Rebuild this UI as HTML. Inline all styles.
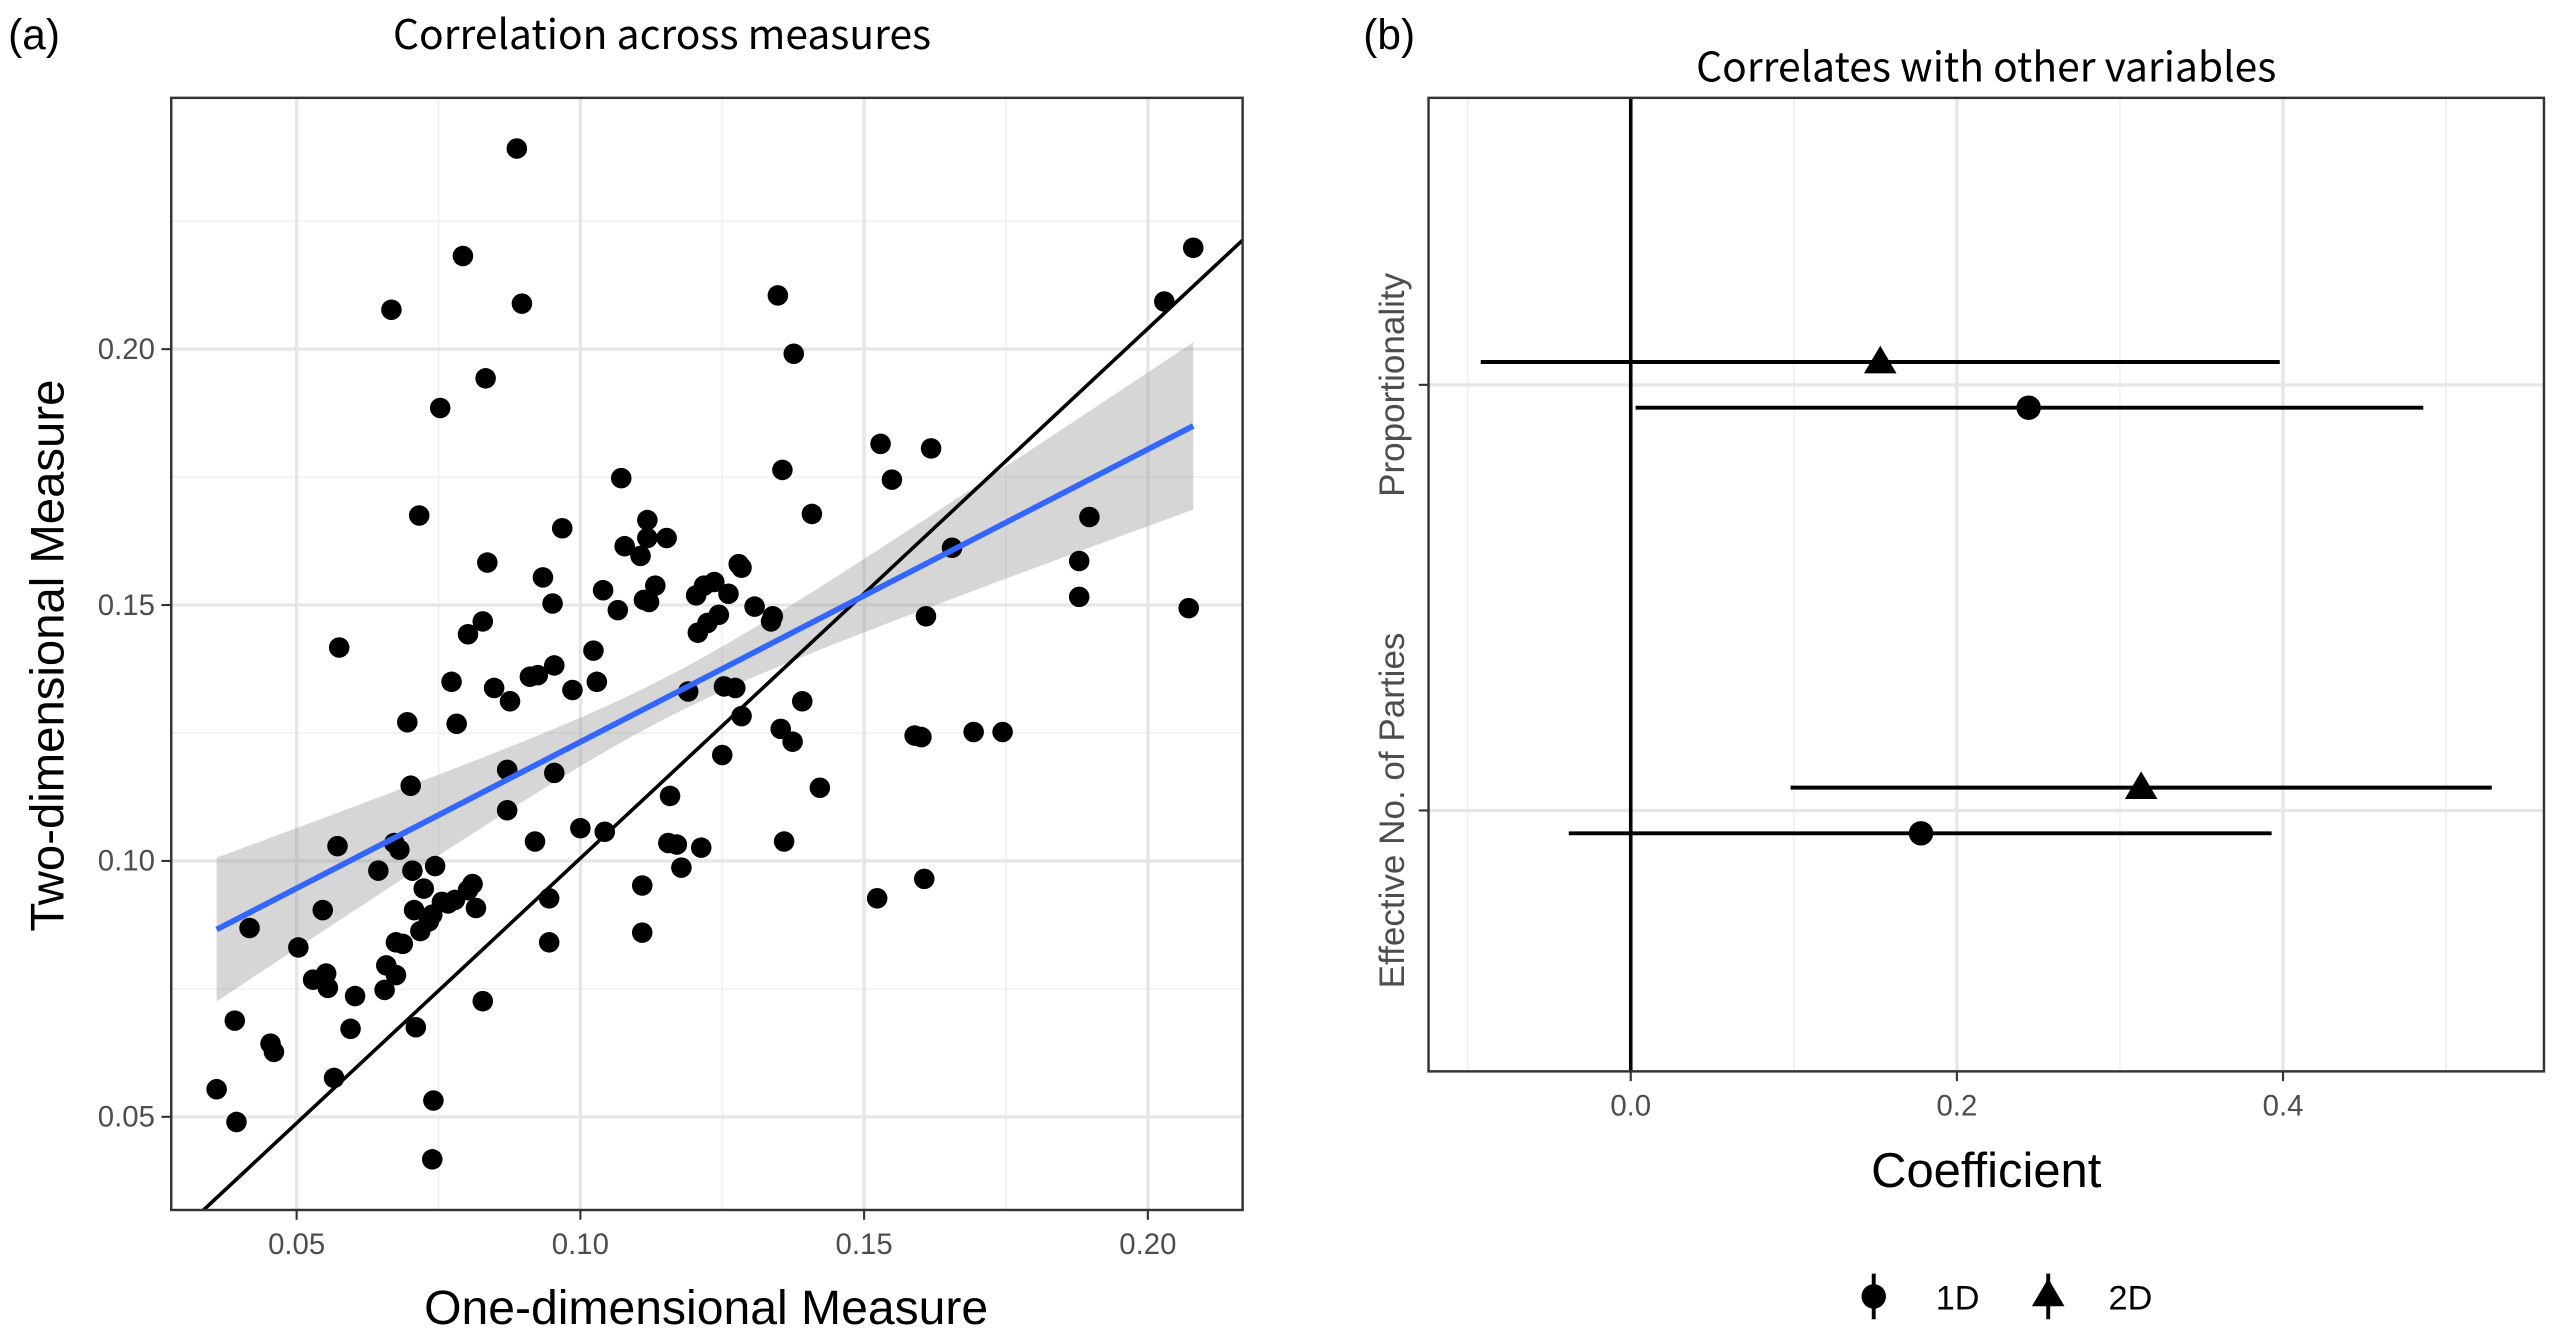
<!DOCTYPE html>
<html><head><meta charset="utf-8"><style>
html,body{margin:0;padding:0;background:#fff;}
svg{display:block;}
text{font-family:"Liberation Sans",sans-serif;}
.nt{font-family:"Noto Sans CJK JP","Liberation Sans",sans-serif;}
</style></head><body>
<svg id="chart" xmlns="http://www.w3.org/2000/svg" width="2557" height="1338" viewBox="0 0 1568 820.5" preserveAspectRatio="none">
<g id="pa"></g>
<g id="pb"></g>
</svg>
<script>
// ---- Panel (a) data ----
const xVals = [0.0359,0.0394,0.0391,0.0417,0.0454,0.0460,0.0503,0.0529,0.0546,0.0552,0.0555,0.0566,0.0572,0.0575,0.0595,0.0603,0.0644,0.0655,0.0658,0.0667,0.0672,0.0675,0.0675,0.0681,0.0687,0.0695,0.0701,0.0704,0.0707,0.0710,0.0716,0.0718,0.0724,0.0733,0.0739,0.0741,0.0739,0.0744,0.0753,0.0756,0.0767,0.0773,0.0779,0.0782,0.0793,0.0802,0.0802,0.0810,0.0816,0.0828,0.0828,0.0833,0.0836,0.0848,0.0871,0.0871,0.0876,0.0888,0.0897,0.0911,0.0920,0.0925,0.0934,0.0945,0.0945,0.0954,0.0951,0.0954,0.0968,0.0986,0.1000,0.1023,0.1029,0.1040,0.1043,0.1066,0.1072,0.1078,0.1106,0.1109,0.1109,0.1112,0.1118,0.1118,0.1121,0.1132,0.1152,0.1155,0.1158,0.1170,0.1178,0.1190,0.1204,0.1207,0.1213,0.1218,0.1224,0.1236,0.1244,0.1250,0.1253,0.1261,0.1273,0.1279,0.1284,0.1284,0.1307,0.1339,0.1336,0.1348,0.1353,0.1359,0.1356,0.1374,0.1376,0.1391,0.1408,0.1422,0.1523,0.1529,0.1549,0.1589,0.1601,0.1606,0.1609,0.1618,0.1655,0.1693,0.1744,0.1879,0.1879,0.1897,0.2029,0.2072,0.2080];
const yVals = [0.0554,0.0490,0.0688,0.0869,0.0643,0.0627,0.0831,0.0768,0.0904,0.0780,0.0752,0.0576,0.1029,0.1417,0.0672,0.0736,0.0981,0.0748,0.0796,0.2077,0.1035,0.0777,0.0841,0.1022,0.0838,0.1271,0.1147,0.0981,0.0904,0.0675,0.1675,0.0863,0.0946,0.0882,0.0417,0.0532,0.0895,0.0990,0.1885,0.0920,0.0917,0.1350,0.0924,0.1268,0.2182,0.0943,0.1443,0.0955,0.0908,0.1468,0.0726,0.1943,0.1583,0.1338,0.1178,0.1099,0.1312,0.2392,0.2089,0.1360,0.1038,0.1363,0.1554,0.0927,0.0841,0.1172,0.1503,0.1382,0.1650,0.1334,0.1064,0.1411,0.1350,0.1529,0.1057,0.1490,0.1748,0.1615,0.1596,0.0952,0.0860,0.1510,0.1631,0.1666,0.1506,0.1538,0.1631,0.1035,0.1127,0.1032,0.0987,0.1331,0.1519,0.1446,0.1026,0.1538,0.1465,0.1545,0.1481,0.1207,0.1341,0.1522,0.1338,0.1580,0.1283,0.1573,0.1497,0.1478,0.1468,0.2105,0.1258,0.1038,0.1764,0.1233,0.1991,0.1312,0.1678,0.1143,0.0927,0.1815,0.1745,0.1245,0.1242,0.0965,0.1478,0.1806,0.1612,0.1252,0.1252,0.1516,0.1586,0.1672,0.2093,0.1494,0.2198];
const fitX = [0.0359,0.2080];
const fitY = [0.0866,0.1850];
const refLineX = [0.0336,0.2167];
const refLineY = [0.0318,0.2213];
const bandXm = 0.115, bandA = 1.6e-5, bandB = 0.0290;
const aXTicks = [0.05,0.10,0.15,0.20];
const aXTickLabels = ["0.05","0.10","0.15","0.20"];
const aYTicks = [0.05,0.10,0.15,0.20];
const aYTickLabels = ["0.05","0.10","0.15","0.20"];
const aXMinor = [0.075,0.125,0.175];
const aYMinor = [0.075,0.125,0.175,0.225];
// ---- Panel (b) data ----
const bCategories = ["Proportionality","Effective No. of Parties"];
const est1D = [0.244,0.178];
const lo1D = [0.003,-0.038];
const hi1D = [0.486,0.393];
const est2D = [0.153,0.313];
const lo2D = [-0.092,0.098];
const hi2D = [0.398,0.528];
const bXTicks = [0.0,0.2,0.4];
const bXTickLabels = ["0.0","0.2","0.4"];
const bXMinor = [-0.1,0.1,0.3,0.5];

const NS="http://www.w3.org/2000/svg";
function mk(parent,tag,attrs,txt){const e=document.createElementNS(NS,tag);for(const k in attrs)e.setAttribute(k,attrs[k]);if(txt!==undefined)e.textContent=txt;parent.appendChild(e);return e;}

// Panel a
const pa=document.getElementById('pa');
const A={l:105,r:762,t:60,b:742,x0:0.0279,x1:0.2167,y0:0.0318,y1:0.2491};
const ax=v=>A.l+(v-A.x0)/(A.x1-A.x0)*(A.r-A.l);
const ay=v=>A.b-(v-A.y0)/(A.y1-A.y0)*(A.b-A.t);
let t;
t=mk(pa,'text',{x:5,y:30,'font-size':26,fill:'#000'},'(a)');

t=mk(pa,'text',{x:406,y:30,'font-size':25,'text-anchor':'middle',fill:'#000',class:'nt'},'Correlation across measures');

mk(pa,'defs',{}).innerHTML='<clipPath id="clipA"><rect x="105" y="60" width="657" height="682"/></clipPath>';
aXMinor.forEach(v=>{const l=mk(pa,'line',{x1:ax(v),x2:ax(v),y1:A.t,y2:A.b,stroke:'#f0f0f0','stroke-width':1});});
aYMinor.forEach(v=>{const l=mk(pa,'line',{x1:A.l,x2:A.r,y1:ay(v),y2:ay(v),stroke:'#f0f0f0','stroke-width':1});});
aXTicks.forEach((v,i)=>{const l=mk(pa,'line',{x1:ax(v),x2:ax(v),y1:A.t,y2:A.b,stroke:'#e6e6e6','stroke-width':2});
 const k=mk(pa,'line',{x1:ax(v),x2:ax(v),y1:A.b,y2:A.b+6,stroke:'#333','stroke-width':1.3});
 const s=mk(pa,'text',{x:ax(v),y:A.b+27,'font-size':18,'text-anchor':'middle',fill:'#4d4d4d'},aXTickLabels[i]);});
aYTicks.forEach((v,i)=>{const l=mk(pa,'line',{x1:A.l,x2:A.r,y1:ay(v),y2:ay(v),stroke:'#e6e6e6','stroke-width':2});
 const k=mk(pa,'line',{x1:A.l-6,x2:A.l,y1:ay(v),y2:ay(v),stroke:'#333','stroke-width':1.3});
 const s=mk(pa,'text',{x:A.l-10,y:ay(v)+6,'font-size':18,'text-anchor':'end',fill:'#4d4d4d'},aYTickLabels[i]);});
// band
{const n=40;let up=[],dn=[];const sl=(fitY[1]-fitY[0])/(fitX[1]-fitX[0]);
 for(let i=0;i<=n;i++){const x=fitX[0]+(fitX[1]-fitX[0])*i/n;const y=fitY[0]+sl*(x-fitX[0]);const se=Math.sqrt(bandA+bandB*(x-bandXm)*(x-bandXm));up.push(ax(x)+','+ay(y+se));dn.unshift(ax(x)+','+ay(y-se));}
 const p=mk(pa,'polygon',{points:up.concat(dn).join(' '),fill:'#999','fill-opacity':0.4});}
// reference line
{const l=mk(pa,'line',{x1:ax(refLineX[0]),y1:ay(refLineY[0]),x2:ax(refLineX[1]),y2:ay(refLineY[1]),stroke:'#000','stroke-width':2.2,'clip-path':'url(#clipA)'});}
// points
xVals.forEach((x,i)=>{const c=mk(pa,'circle',{cx:ax(x),cy:ay(yVals[i]),r:6.3,fill:'#000'});});
// fit line
{const l=mk(pa,'line',{x1:ax(fitX[0]),y1:ay(fitY[0]),x2:ax(fitX[1]),y2:ay(fitY[1]),stroke:'#3366ff','stroke-width':3.5});}
{const r=mk(pa,'rect',{x:A.l,y:A.t,width:A.r-A.l,height:A.b-A.t,fill:'none',stroke:'#333','stroke-width':1.5});}
t=mk(pa,'text',{x:433,y:812,'font-size':29.5,'text-anchor':'middle',fill:'#000'},'One-dimensional Measure');

t=mk(pa,'text',{x:0,y:0,'font-size':29,'text-anchor':'middle',fill:'#000',transform:'translate(39,402) rotate(-90)'},'Two-dimensional Measure');


// Panel b
const pb=document.getElementById('pb');
const B={l:876,r:1560,t:60,b:657,x0:-0.124,x1:0.56};
const bx=v=>B.l+(v-B.x0)/(B.x1-B.x0)*(B.r-B.l);
const catY=[236,497];
const off=14;
t=mk(pb,'text',{x:836,y:30,'font-size':26,fill:'#000'},'(b)');

t=mk(pb,'text',{x:1218,y:50,'font-size':25,'text-anchor':'middle',fill:'#000',class:'nt'},'Correlates with other variables');

bXMinor.forEach(v=>{const l=mk(pb,'line',{x1:bx(v),x2:bx(v),y1:B.t,y2:B.b,stroke:'#f0f0f0','stroke-width':1});});
bXTicks.forEach((v,i)=>{const l=mk(pb,'line',{x1:bx(v),x2:bx(v),y1:B.t,y2:B.b,stroke:'#e6e6e6','stroke-width':2});
 const k=mk(pb,'line',{x1:bx(v),x2:bx(v),y1:B.b,y2:B.b+6,stroke:'#333','stroke-width':1.3});
 const s=mk(pb,'text',{x:bx(v),y:B.b+27,'font-size':18,'text-anchor':'middle',fill:'#4d4d4d'},bXTickLabels[i]);});
bCategories.forEach((c,i)=>{const y=catY[i];
 const l=mk(pb,'line',{x1:B.l,x2:B.r,y1:y,y2:y,stroke:'#e6e6e6','stroke-width':2});
 const k=mk(pb,'line',{x1:B.l-6,x2:B.l,y1:y,y2:y,stroke:'#333','stroke-width':1.3});
 const s=mk(pb,'text',{x:0,y:0,'font-size':21.5,'text-anchor':'middle',fill:'#4d4d4d',transform:`translate(861,${y}) rotate(-90)`},c);});
{const l=mk(pb,'line',{x1:bx(0),x2:bx(0),y1:B.t,y2:B.b,stroke:'#000','stroke-width':2.2});}
bCategories.forEach((c,i)=>{
 const y2=catY[i]-off,y1=catY[i]+off;
 const e2=mk(pb,'line',{x1:bx(lo2D[i]),x2:bx(hi2D[i]),y1:y2,y2:y2,stroke:'#000','stroke-width':2.4});
 const X=bx(est2D[i]);const tr=mk(pb,'polygon',{points:`${X},${y2-10} ${X-10},${y2+7} ${X+10},${y2+7}`,fill:'#000'});
 const e1=mk(pb,'line',{x1:bx(lo1D[i]),x2:bx(hi1D[i]),y1:y1,y2:y1,stroke:'#000','stroke-width':2.4});
 const ci=mk(pb,'circle',{cx:bx(est1D[i]),cy:y1,r:7.5,fill:'#000'});});
{const r=mk(pb,'rect',{x:B.l,y:B.t,width:B.r-B.l,height:B.b-B.t,fill:'none',stroke:'#333','stroke-width':1.5});}
t=mk(pb,'text',{x:1218,y:728,'font-size':30,'text-anchor':'middle',fill:'#000'},'Coefficient');

// legend
{const g=mk(pb,'g',{});
 const e1=mk(g,'g',{});
 mk(e1,'line',{x1:1149,x2:1149,y1:781,y2:809,stroke:'#000','stroke-width':2.4});
 mk(e1,'circle',{cx:1149,cy:795,r:7.5,fill:'#000'});
 mk(e1,'text',{x:1187,y:803,'font-size':21,fill:'#000'},'1D');
 const e2=mk(g,'g',{});
 mk(e2,'line',{x1:1256,x2:1256,y1:781,y2:809,stroke:'#000','stroke-width':2.4});
 mk(e2,'polygon',{points:'1256,784 1246,801 1266,801',fill:'#000'});
 mk(e2,'text',{x:1293,y:803,'font-size':21,fill:'#000'},'2D');}
</script>
</body></html>
